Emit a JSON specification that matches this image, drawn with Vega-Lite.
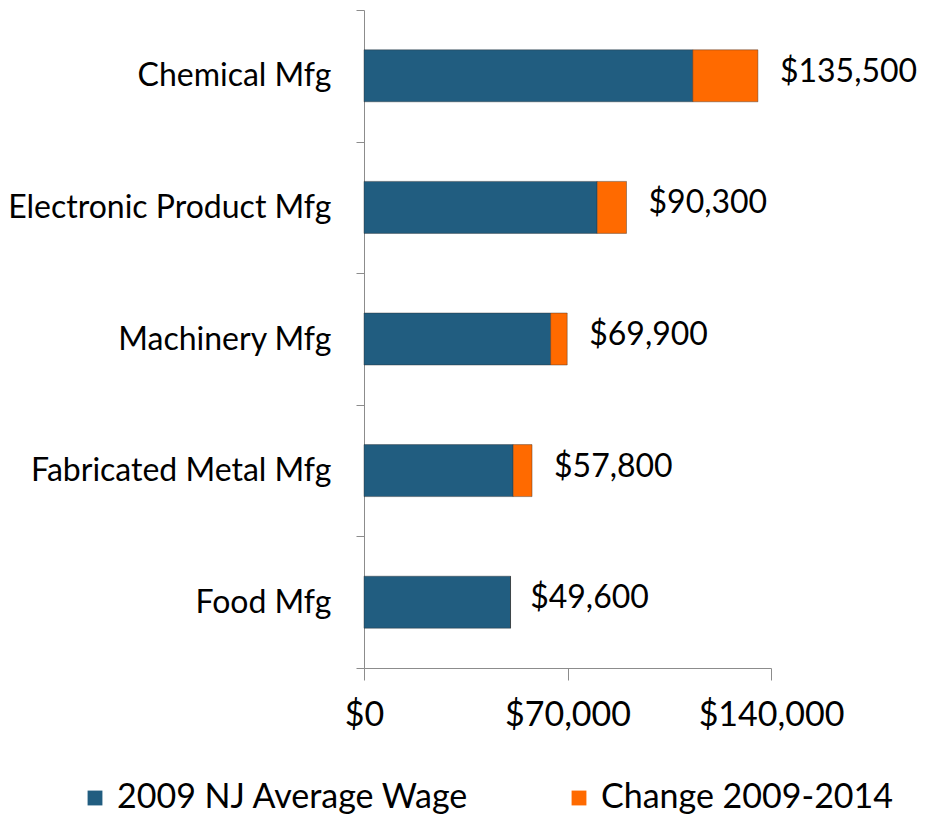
{
  "$schema": "https://vega.github.io/schema/vega-lite/v6.json",
  "autosize": "none",
  "width": 407,
  "height": 658,
  "padding": {"left": 364, "top": 10, "right": 156, "bottom": 149},
  "background": "white",
  "config": {
    "font": "Lato",
    "view": {"stroke": null},
    "axis": {"domainColor": "#8c8c8c", "tickColor": "#8c8c8c", "labelColor": "#000000", "labelFontSize": 31, "labelFont": "Lato", "grid": false, "labelLimit": 0}
  },
  "datasets": {
    "bars": [
      {"industry": "Chemical Mfg", "series": "2009 NJ Average Wage", "wage": 113100},
      {"industry": "Chemical Mfg", "series": "Change 2009-2014", "wage": 22400},
      {"industry": "Electronic Product Mfg", "series": "2009 NJ Average Wage", "wage": 80200},
      {"industry": "Electronic Product Mfg", "series": "Change 2009-2014", "wage": 10100},
      {"industry": "Machinery Mfg", "series": "2009 NJ Average Wage", "wage": 64200},
      {"industry": "Machinery Mfg", "series": "Change 2009-2014", "wage": 5700},
      {"industry": "Fabricated Metal Mfg", "series": "2009 NJ Average Wage", "wage": 51300},
      {"industry": "Fabricated Metal Mfg", "series": "Change 2009-2014", "wage": 6500},
      {"industry": "Food Mfg", "series": "2009 NJ Average Wage", "wage": 50400},
      {"industry": "Food Mfg", "series": "Change 2009-2014", "wage": 0}
    ],
    "labels": [
      {"industry": "Chemical Mfg", "total": 135500},
      {"industry": "Electronic Product Mfg", "total": 90300},
      {"industry": "Machinery Mfg", "total": 69900},
      {"industry": "Fabricated Metal Mfg", "total": 57800},
      {"industry": "Food Mfg", "total": 49600}
    ]
  },
  "encoding": {
    "y": {
      "field": "industry",
      "type": "nominal",
      "sort": null,
      "scale": {"paddingInner": 0, "paddingOuter": 0},
      "axis": {"title": null, "tickBand": "extent", "tickSize": 8, "labelPadding": 25, "labelFontSize": 32, "labelLimit": 0}
    }
  },
  "layer": [
    {
      "data": {"name": "bars"},
      "mark": {"type": "bar", "size": 52, "stroke": "#2a2a2a", "strokeOpacity": 0.4, "strokeWidth": 1},
      "encoding": {
        "x": {
          "field": "wage",
          "type": "quantitative",
          "stack": "zero",
          "scale": {"domain": [0, 140000], "nice": false},
          "axis": {"title": null, "values": [0, 70000, 140000], "format": "$,.0f", "tickSize": 12, "labelPadding": 18, "labelFontSize": 34, "labelFlush": false, "labelLimit": 0}
        },
        "color": {
          "field": "series",
          "type": "nominal",
          "scale": {"domain": ["2009 NJ Average Wage", "Change 2009-2014"], "range": ["#215d80", "#ff6a00"]},
          "legend": {
            "title": null,
            "orient": "none",
            "legendX": -286,
            "legendY": 771,
            "direction": "horizontal",
            "columns": 2,
            "columnPadding": 93,
            "symbolType": "square",
            "symbolSize": 220,
            "symbolStrokeWidth": 0,
            "labelFontSize": 34,
            "labelFont": "Lato",
            "labelColor": "#000000",
            "labelOffset": 5,
            "labelLimit": 0
          }
        }
      }
    },
    {
      "data": {"name": "labels"},
      "mark": {"type": "text", "align": "left", "baseline": "middle", "dx": 22, "dy": -4, "fontSize": 32, "color": "#000000"},
      "encoding": {
        "x": {"field": "total", "type": "quantitative"},
        "text": {"field": "total", "type": "quantitative", "format": "$,.0f"}
      }
    }
  ]
}
